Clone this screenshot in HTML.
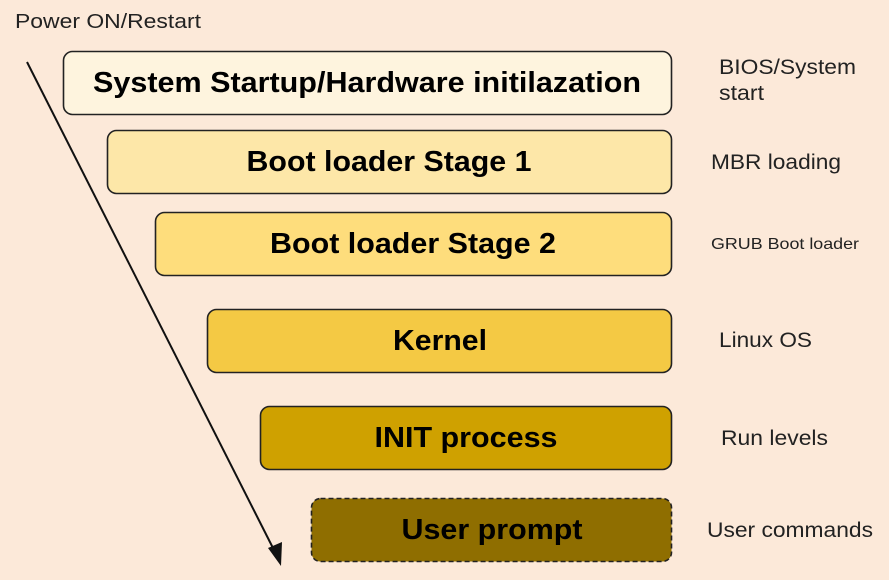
<!DOCTYPE html>
<html><head><meta charset="utf-8"><style>
html,body{margin:0;padding:0;background:#fce9d9;}
svg{display:block;font-family:"Liberation Sans",Arial,sans-serif;}
</style></head><body>
<svg width="889" height="580" viewBox="0 0 889 580" xmlns="http://www.w3.org/2000/svg">
<rect width="889" height="580" fill="#fce9d9"/>
<text x="15" y="28" font-size="20" fill="#222" textLength="186" lengthAdjust="spacingAndGlyphs">Power ON/Restart</text>
<g stroke="#222" stroke-width="1.6">
<rect x="63.5" y="51.5" width="608" height="63" rx="9" fill="#fef4de"/>
<rect x="107.5" y="130.5" width="564" height="63" rx="9" fill="#fde7a8"/>
<rect x="155.5" y="212.5" width="516" height="63" rx="9" fill="#fedd7c"/>
<rect x="207.5" y="309.5" width="464" height="63" rx="9" fill="#f4c944"/>
<rect x="260.5" y="406.5" width="411" height="63" rx="9" fill="#cfa100"/>
<rect x="311.5" y="498.5" width="360" height="63" rx="9" fill="#8f6e00" stroke-dasharray="5,3"/>
</g>
<g font-weight="bold" font-size="29" fill="#000" text-anchor="middle">
<text x="367" y="92" textLength="548" lengthAdjust="spacingAndGlyphs">System Startup/Hardware initilazation</text>
<text x="389" y="171" textLength="285" lengthAdjust="spacingAndGlyphs">Boot loader Stage 1</text>
<text x="413" y="253" textLength="286" lengthAdjust="spacingAndGlyphs">Boot loader Stage 2</text>
<text x="440" y="350" textLength="94" lengthAdjust="spacingAndGlyphs">Kernel</text>
<text x="466" y="447" textLength="183" lengthAdjust="spacingAndGlyphs">INIT process</text>
<text x="492" y="539" textLength="181" lengthAdjust="spacingAndGlyphs">User prompt</text>
</g>
<g font-size="21" fill="#222">
<text x="719" y="74" textLength="137" lengthAdjust="spacingAndGlyphs">BIOS/System</text>
<text x="719" y="100" textLength="45" lengthAdjust="spacingAndGlyphs">start</text>
<text x="711" y="169" textLength="130" lengthAdjust="spacingAndGlyphs">MBR loading</text>
<text x="711" y="249" font-size="16" textLength="148" lengthAdjust="spacingAndGlyphs">GRUB Boot loader</text>
<text x="719" y="347" textLength="93" lengthAdjust="spacingAndGlyphs">Linux OS</text>
<text x="721" y="445" textLength="107" lengthAdjust="spacingAndGlyphs">Run levels</text>
<text x="707" y="537" textLength="166" lengthAdjust="spacingAndGlyphs">User commands</text>
</g>
<line x1="27" y1="62" x2="275" y2="552" stroke="#111" stroke-width="2"/>
<polygon points="281,566 268,548 282,542" fill="#111"/>
</svg>
</body></html>
